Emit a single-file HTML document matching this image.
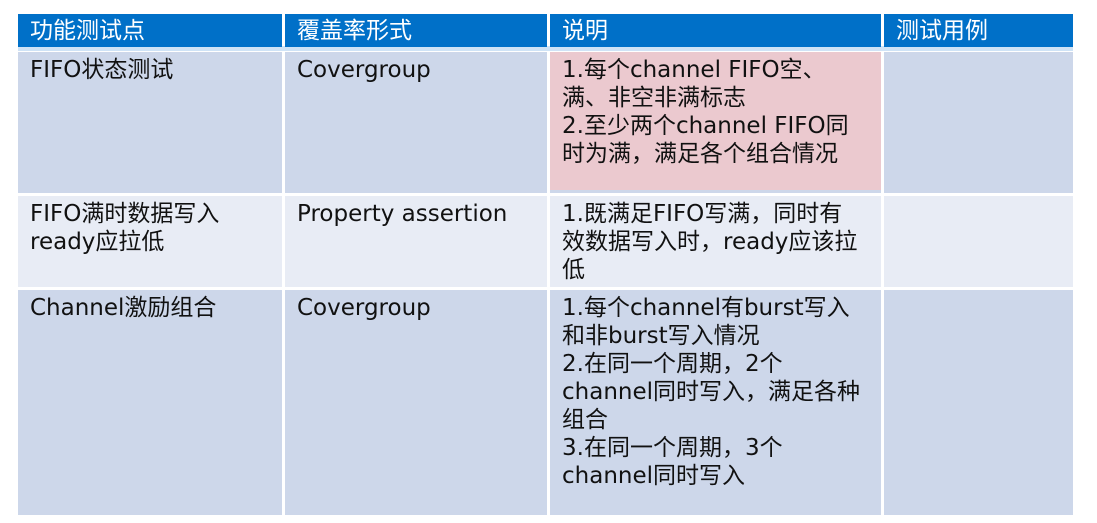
<!DOCTYPE html>
<html><head><meta charset="utf-8"><style>
body{margin:0;width:1097px;height:523px;background:#fff;position:relative;overflow:hidden;font-family:"DejaVu Sans","Liberation Sans","Noto Sans CJK SC",sans-serif;font-size:23px;color:#111}
.c{position:absolute;box-sizing:border-box;padding:4px 0 0 12px;line-height:28px;white-space:nowrap}
.h{background:#0070c8;color:#fff;padding-top:2px;line-height:30px}
.a{background:#cdd7ea}.b{background:#e8ecf5}
</style></head><body>
<div style="position:absolute;left:18px;top:46px;width:1055px;height:5px;background:#cfe3f6"></div>
<div class="c h" style="left:18px;top:14px;width:264px;height:33px">功能测试点</div>
<div class="c h" style="left:285px;top:14px;width:262px;height:33px">覆盖率形式</div>
<div class="c h" style="left:550px;top:14px;width:331px;height:33px">说明</div>
<div class="c h" style="left:884px;top:14px;width:189px;height:33px">测试用例</div>

<div class="c a" style="left:18px;top:52px;width:264px;height:141px">FIFO状态测试</div>
<div class="c a" style="left:285px;top:52px;width:262px;height:141px">Covergroup</div>
<div class="c a" style="left:550px;top:52px;width:331px;height:141px"></div>
<div class="c" style="left:550px;top:52px;width:331px;height:138px;background:#ebc9cf">1.每个channel FIFO空、<br>满、非空非满标志<br>2.至少两个channel FIFO同<br>时为满，满足各个组合情况</div>
<div class="c a" style="left:884px;top:52px;width:189px;height:141px"></div>

<div class="c b" style="left:18px;top:196px;width:264px;height:91px">FIFO满时数据写入<br>ready应拉低</div>
<div class="c b" style="left:285px;top:196px;width:262px;height:91px">Property assertion</div>
<div class="c b" style="left:550px;top:196px;width:331px;height:91px">1.既满足FIFO写满，同时有<br>效数据写入时，ready应该拉<br>低</div>
<div class="c b" style="left:884px;top:196px;width:189px;height:91px"></div>

<div class="c a" style="left:18px;top:290px;width:264px;height:225px">Channel激励组合</div>
<div class="c a" style="left:285px;top:290px;width:262px;height:225px">Covergroup</div>
<div class="c a" style="left:550px;top:290px;width:331px;height:225px">1.每个channel有burst写入<br>和非burst写入情况<br>2.在同一个周期，2个<br>channel同时写入，满足各种<br>组合<br>3.在同一个周期，3个<br>channel同时写入</div>
<div class="c a" style="left:884px;top:290px;width:189px;height:225px"></div>
</body></html>
